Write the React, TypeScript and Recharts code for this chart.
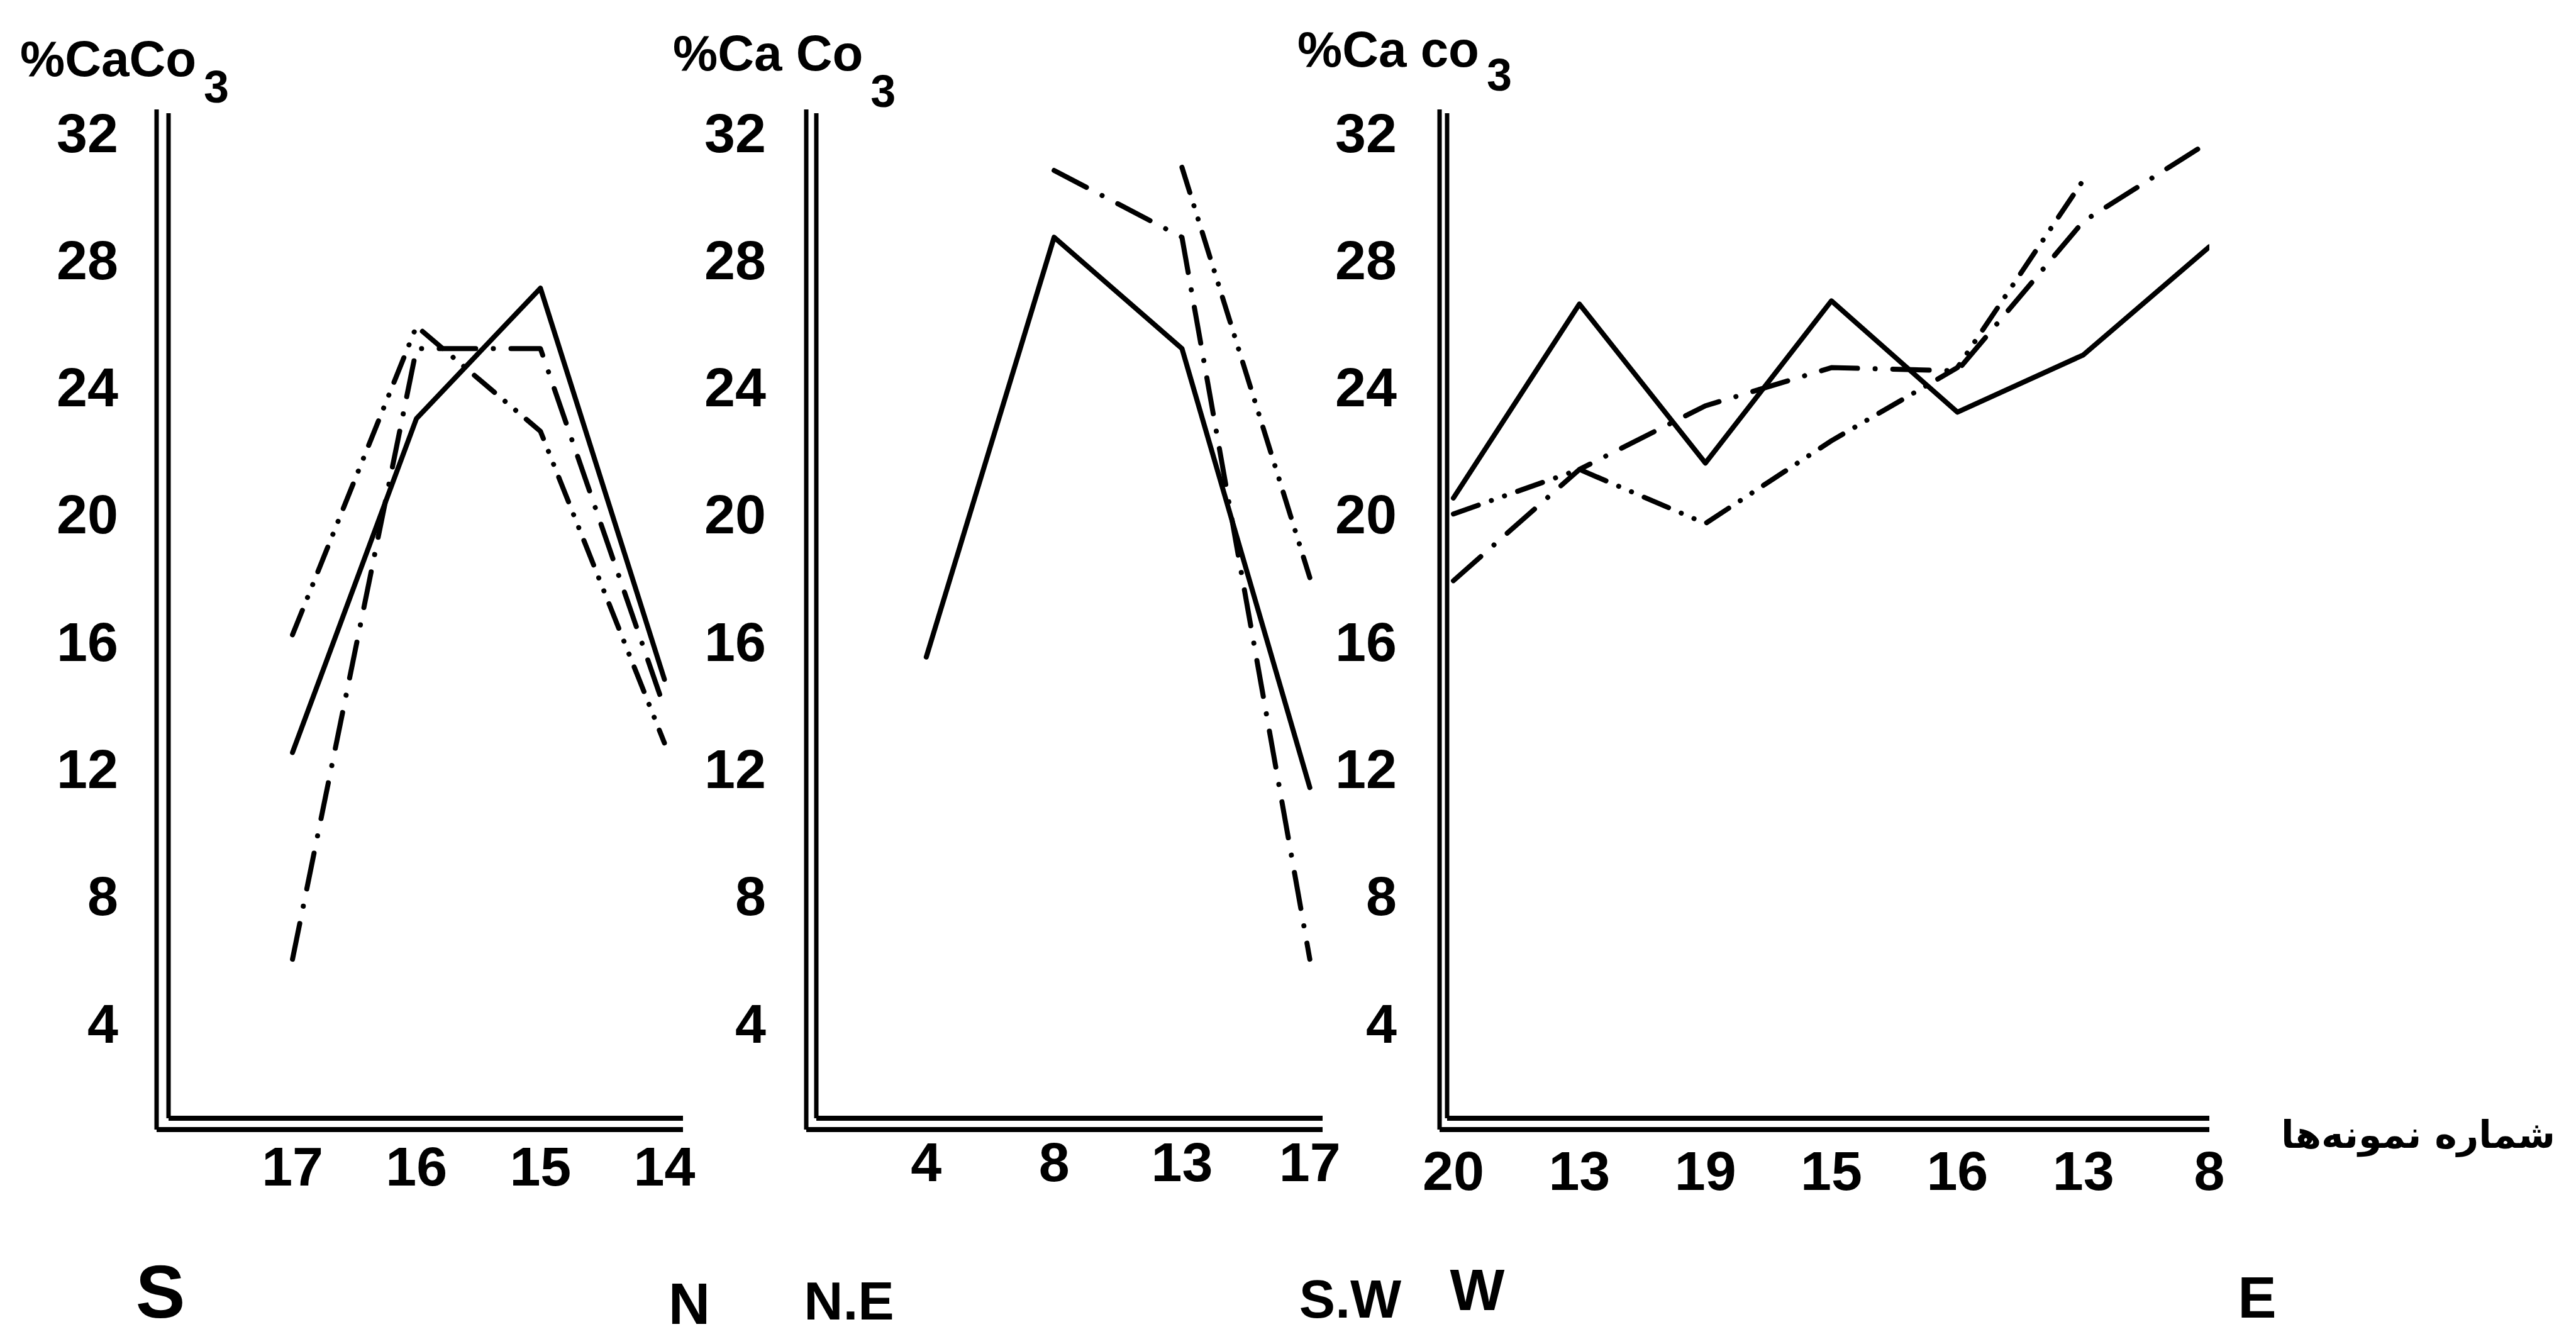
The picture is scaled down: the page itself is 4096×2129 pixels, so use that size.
import React from "react";
import { LineChart, Line, XAxis, YAxis, ReferenceLine } from "recharts";

// panel 1 : S -> N
const p1Samples = ["17", "16", "15", "14"];
const p1Solid = [12.5, 23.0, 27.1, 14.8];
const p1DashDot = [6.0, 25.2, 25.2, 13.9];
const p1DashDotDot = [16.2, 25.9, 22.6, 12.8];

// panel 2 : N.E -> S.W
const p2Samples = ["4", "8", "13", "17"];
const p2Solid = [15.5, 28.7, 25.2, 11.4];
const p2DashDot = [null, 30.8, 28.7, 6.0];
const p2DashDotDot = [null, null, 30.9, 18.0];

// panel 3 : W -> E
const p3Samples = ["20", "13", "19", "15", "16", "13", "8"];
const p3Solid = [20.5, 26.6, 21.6, 26.7, 23.2, 25.0, 28.4];
const p3DashDot = [17.9, 21.4, 23.4, 24.6, 24.5, 29.2, 31.7];
const p3DashDotDot = [20.0, 21.4, 19.7, 22.3, 24.6, 30.5, null];

const yTicks = [4, 8, 12, 16, 20, 24, 28, 32];

const W = 4096;
const H = 2129;
const PLOT_TOP = 180;
const PLOT_BOTTOM = 1778;
const X_AXIS_H = 200;
const Y_AXIS_W = 260;
const RIGHT_PAD = 90;
const Y_DOMAIN: [number, number] = [1, 32.6];

const FONT = '"Liberation Sans", Arial, sans-serif';
const INK = "#000";

const DASH_DOT = "58 28 0.1 28";
const DASH_DOT_DOT = "42 22 0.1 22 0.1 22";

const panels = [
  {
    key: "p1",
    samples: p1Samples,
    first: 1,
    xDomain: [0, 4.15] as [number, number],
    solid: p1Solid,
    dashDot: p1DashDot,
    dashDotDot: p1DashDotDot,
    plotLeft: 268,
    plotRight: 1086,
    yGap: 19,
    xTickMargin: 45,
  },
  {
    key: "p2",
    samples: p2Samples,
    first: 1,
    xDomain: [0.14, 4.1] as [number, number],
    solid: p2Solid,
    dashDot: p2DashDot,
    dashDotDot: p2DashDotDot,
    plotLeft: 1298,
    plotRight: 2103,
    yGap: 16,
    xTickMargin: 38,
  },
  {
    key: "p3",
    samples: p3Samples,
    first: 0,
    xDomain: [-0.05, 6.0] as [number, number],
    solid: p3Solid,
    dashDot: p3DashDot,
    dashDotDot: p3DashDotDot,
    plotLeft: 2301,
    plotRight: 3513,
    yGap: 12,
    xTickMargin: 52,
  },
];

// double vertical axis line (hand drawn look of the original)
// eslint-disable-next-line @typescript-eslint/no-explicit-any
function DoubleV(props: any) {
  const { x1, y1, y2, gap } = props;
  const top = Math.min(y1, y2);
  const bottom = Math.max(y1, y2);
  return (
    <g>
      <line x1={x1 - gap} y1={top - 6} x2={x1 - gap} y2={bottom + 18} stroke={INK} strokeWidth={7} />
      <line x1={x1} y1={top} x2={x1} y2={bottom} stroke={INK} strokeWidth={7} />
    </g>
  );
}

// eslint-disable-next-line @typescript-eslint/no-explicit-any
function DoubleH(props: any) {
  const { x1, x2, y1, yGap } = props;
  const left = Math.min(x1, x2);
  const right = Math.max(x1, x2);
  return (
    <g>
      <line x1={left} y1={y1} x2={right} y2={y1} stroke={INK} strokeWidth={8} />
      <line x1={left - yGap} y1={y1 + 18} x2={right} y2={y1 + 18} stroke={INK} strokeWidth={8} />
    </g>
  );
}

const tickStyle = { fill: INK, fontSize: 88, fontFamily: FONT, fontWeight: 700 };

// eslint-disable-next-line @typescript-eslint/no-explicit-any
function Panel({ cfg }: { cfg: any }) {
  const data = cfg.samples.map((s: string, i: number) => ({
    pos: cfg.first + i,
    sample: s,
    solid: cfg.solid[i],
    dashDot: cfg.dashDot[i],
    dashDotDot: cfg.dashDotDot[i],
  }));
  const ticks = data.map((d: { pos: number }) => d.pos);
  const left = cfg.plotLeft - Y_AXIS_W;
  const width = cfg.plotRight - left + RIGHT_PAD;

  return (
    <div style={{ position: "absolute", left, top: 0 }}>
      <LineChart
        width={width}
        height={H}
        data={data}
        margin={{ top: PLOT_TOP, right: RIGHT_PAD, bottom: H - PLOT_BOTTOM - X_AXIS_H, left: 0 }}
      >
        <XAxis
          type="number"
          dataKey="pos"
          domain={cfg.xDomain}
          ticks={ticks}
          interval={0}
          allowDataOverflow
          tickFormatter={(v: number) => cfg.samples[v - cfg.first]}
          axisLine={false}
          tickLine={false}
          tickSize={0}
          tickMargin={cfg.xTickMargin}
          height={X_AXIS_H}
          tick={tickStyle}
        />
        <YAxis
          type="number"
          domain={Y_DOMAIN}
          ticks={yTicks}
          interval={0}
          allowDataOverflow
          width={Y_AXIS_W}
          axisLine={false}
          tickLine={false}
          tickSize={0}
          tickMargin={80}
          tick={tickStyle}
        />
        <ReferenceLine
          x={cfg.xDomain[0]}
          stroke={INK}
          // eslint-disable-next-line @typescript-eslint/no-explicit-any
          shape={(p: any) => <DoubleV {...p} gap={cfg.yGap} />}
        />
        <ReferenceLine
          y={Y_DOMAIN[0]}
          stroke={INK}
          // eslint-disable-next-line @typescript-eslint/no-explicit-any
          shape={(p: any) => <DoubleH {...p} yGap={cfg.yGap} />}
        />
        <Line
          dataKey="solid"
          stroke={INK}
          strokeWidth={8}
          strokeLinejoin="round"
          strokeLinecap="round"
          dot={false}
          activeDot={false}
          isAnimationActive={false}
        />
        <Line
          dataKey="dashDot"
          stroke={INK}
          strokeWidth={8}
          strokeDasharray={DASH_DOT}
          strokeLinejoin="round"
          strokeLinecap="round"
          dot={false}
          activeDot={false}
          isAnimationActive={false}
        />
        <Line
          dataKey="dashDotDot"
          stroke={INK}
          strokeWidth={8}
          strokeDasharray={DASH_DOT_DOT}
          strokeLinejoin="round"
          strokeLinecap="round"
          dot={false}
          activeDot={false}
          isAnimationActive={false}
        />
      </LineChart>
    </div>
  );
}

const titleStyle = { fontFamily: FONT, fontWeight: 700, fill: INK };

// y axis title, the subscript 3 kept in the same text element
function Title({ x, y, label, sub }: { x: number; y: number; label: string; sub: number }) {
  return (
    <text x={x} y={y} fontSize={80} {...titleStyle}>
      {label}
      <tspan dx={12} dy={sub} fontSize={72}>3</tspan>
    </text>
  );
}

export default function App() {
  return (
    <div
      style={{
        position: "absolute",
        left: 0,
        top: 0,
        width: W,
        height: H,
        background: "#fff",
        overflow: "hidden",
      }}
    >
      {panels.map((cfg) => (
        <Panel key={cfg.key} cfg={cfg} />
      ))}
      <svg
        width={W}
        height={H}
        style={{ position: "absolute", left: 0, top: 0, pointerEvents: "none" }}
      >
        {/* axis titles */}
        <Title x={32} y={121} label="%CaCo" sub={42} />
        <Title x={1070} y={112} label="%Ca Co" sub={58} />
        <Title x={2063} y={106} label="%Ca co" sub={38} />

        {/* directions */}
        <text x={255} y={2095} fontSize={118} textAnchor="middle" {...titleStyle}>S</text>
        <text x={1096} y={2105} fontSize={92} textAnchor="middle" {...titleStyle}>N</text>
        <text x={1350} y={2098} fontSize={86} textAnchor="middle" {...titleStyle}>N.E</text>
        <text x={2147} y={2095} fontSize={86} textAnchor="middle" {...titleStyle}>S.W</text>
        <text x={2349} y={2083} fontSize={92} textAnchor="middle" {...titleStyle}>W</text>
        <text x={3589} y={2095} fontSize={92} textAnchor="middle" {...titleStyle}>E</text>

        {/* sample number label */}
        <text
          x={3845}
          y={1825}
          fontSize={60}
          textAnchor="middle"
          direction="rtl"
          fontFamily='"DejaVu Sans", sans-serif'
          fontWeight={700}
          fill={INK}
        >
          شماره نمونه‌ها
        </text>
      </svg>
    </div>
  );
}
